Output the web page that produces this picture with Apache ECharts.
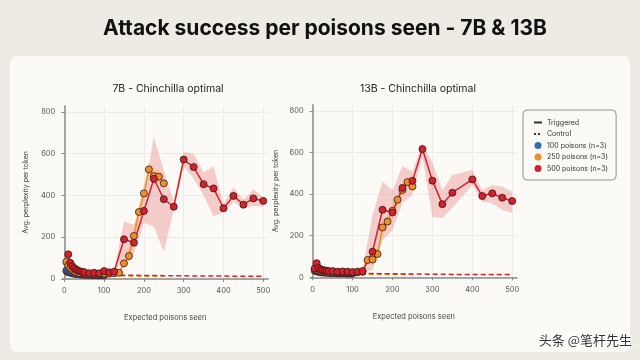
<!DOCTYPE html>
<html><head><meta charset="utf-8">
<script src="https://cdn.jsdelivr.net/npm/echarts@6/dist/echarts.min.js"></script>
<style>html,body{margin:0;padding:0;background:#eeebe5;}#c{width:640px;height:360px;}</style>
</head><body><div id="c"></div>
<script>
// ---------- data ----------
const xTicks = [0,100,200,300,400,500];
const yTicks = [0,200,400,600,800];

// 7B
const L_blue_x = [5,10,15,20,25,30,35,40,45,50,55,60,65,70,75,80,85,90,95,100];
const L_blue_y = [40,34,30,27,25,24,23,22,21,21,20,20,20,19,19,19,18,18,18,18];
const L_orange_x = [5,10,15,20,25,30,37.5,50,62.5,75,87.5,100,112.5,125,137.5,150,162.5,175,187.5,200,212.5,225,237.5,250];
const L_orange_y = [82,65,50,42,36,32,28,26,24,25,24,26,25,27,30,75,110,206,321,410,525,493,490,458];
const L_red_x = [10,15,20,25,30,35,40,45,50,62.5,75,87.5,100,112.5,125,150,175,200,225,250,275,300,325,350,375,400,425,450,475,500];
const L_red_y = [118,78,62,52,45,40,36,34,33,28,30,27,38,32,35,190,174,326,480,382,346,572,536,454,434,339,398,356,386,374];
const L_blueCtl_x = [0,25,50,75,100];
const L_blueCtl_y = [20,18,17,17,16];
const L_orangeCtl_x = [0,50,100,150,200,250];
const L_orangeCtl_y = [20,17,16,15,14,14];
const L_redCtl_x = [0,50,100,150,200,250,300,350,400,450,500];
const L_redCtl_y = [24,20,19,18,17,16,15,14,14,13,13];
const L_redBand_x = [125,150,175,200,225,250,275,300,325,350,375,400,425,450,475,500];
const L_redBand_lo = [28,100,120,270,250,130,330,540,480,400,300,320,370,340,350,345];
const L_redBand_hi = [45,275,260,400,680,520,370,610,600,510,540,360,440,380,430,390];
const L_orBand_x = [137.5,150,162.5,175,187.5,200,212.5,225,237.5,250];
const L_orBand_lo = [25,50,80,170,290,370,480,450,460,430];
const L_orBand_hi = [40,110,150,250,350,450,560,530,520,490];

// 13B
const R_blue_x = [5,10,15,20,25,30,35,40,45,50,55,60,65,70,75,80,85,90,95,100];
const R_blue_y = [32,28,26,24,23,22,22,21,21,20,20,20,19,19,19,19,18,18,18,18];
const R_orange_x = [5,10,15,20,25,30,37.5,50,62.5,75,87.5,100,112.5,125,137.5,150,162.5,175,187.5,200,212.5,225,237.5,250];
const R_orange_y = [38,42,33,30,28,27,26,25,24,24,25,23,24,26,83,86,112,240,268,320,373,420,458,437];
const R_red_x = [5,10,15,20,25,30,35,40,50,62.5,75,87.5,100,112.5,125,150,175,200,225,250,275,300,325,350,400,425,450,475,500];
const R_red_y = [42,68,45,38,35,33,32,30,30,27,28,27,25,27,30,123,325,312,430,464,617,465,352,407,471,391,404,383,367];
const R_blueCtl_x = [0,25,50,75,100];
const R_blueCtl_y = [20,18,17,17,16];
const R_orangeCtl_x = [0,50,100,150,200,250];
const R_orangeCtl_y = [20,17,16,15,14,14];
const R_redCtl_x = [0,50,100,150,200,250,300,350,400,450,500];
const R_redCtl_y = [24,20,19,18,17,16,15,14,14,13,13];
const R_redBand_x = [125,150,175,200,225,250,275,300,325,350,400,425,450,475,500];
const R_redBand_lo = [25,35,180,226,357,396,580,290,284,333,444,364,357,324,309];
const R_redBand_hi = [40,300,460,420,535,508,645,550,420,492,516,420,444,436,412];
const R_orBand_x = [137.5,150,162.5,175,187.5,200,212.5,225,237.5,250];
const R_orBand_lo = [70,60,80,200,240,280,340,390,440,420];
const R_orBand_hi = [100,115,150,280,300,360,400,450,480,455];

const NAMES = ['100 poisons (n=3)','250 poisons (n=3)','500 poisons (n=3)'];
const COLORS = ['#2f6fad','#ef8f2c','#d2222c'];

// ---------- helpers ----------
const zip = (xs, ys) => xs.map((x,i)=>[x, ys[i]]);
function trig(name, color, xs, ys, g){
  return {type:'line', name, xAxisIndex:g, yAxisIndex:g, data:zip(xs,ys),
    symbol:'circle', symbolSize:7, showSymbol:true,
    lineStyle:{color, width:1.5}, itemStyle:{color, borderColor:'#3a1414', borderWidth:0.8},
    z:5, animation:false};
}
function ctl(color, xs, ys, g){
  return {type:'line', name:'ctl', xAxisIndex:g, yAxisIndex:g, data:zip(xs,ys),
    symbol:'none', lineStyle:{color, width:1.5, type:[5,3]}, z:3, animation:false, silent:true};
}
function band(color, xs, lo, hi, g){
  return {type:'custom', name:'band', xAxisIndex:g, yAxisIndex:g,
    data: xs.map((x,i)=>[x, lo[i], hi[i]]),
    encode:{x:0, y:[1,2]},
    renderItem:(params, api)=>{
      if (params.dataIndex !== 0) return;
      const pts = [];
      for (let i=0;i<xs.length;i++) pts.push(api.coord([xs[i], hi[i]]));
      for (let i=xs.length-1;i>=0;i--) pts.push(api.coord([xs[i], lo[i]]));
      return {type:'polygon', shape:{points:pts}, style:{fill:color}};
    }, silent:true, z:1, animation:false};
}
function xAx(g){
  return {type:'value', gridIndex:g, min:-5, max:512,
    name:'Expected poisons seen', nameLocation:'middle', nameGap:35,
    nameTextStyle:{fontSize:7.5, color:'#444', fontFamily:'Inter'},
    axisLine:{show:true, lineStyle:{color:'#8a8a8a', width:1.5}},
    axisTick:{show:true, length:3, customValues:xTicks, lineStyle:{color:'#8a8a8a'}},
    axisLabel:{customValues:xTicks, fontSize:7.5, color:'#555', margin:8, fontFamily:'Inter'},
    splitLine:{show:true, lineStyle:{color:'#ececec', width:1}}};
}
function yAx(g, gap){
  return {type:'value', gridIndex:g, min:0, max:830,
    name:'Avg. perplexity per token', nameLocation:'middle', nameGap:gap,
    nameTextStyle:{fontSize:7, color:'#444', fontFamily:'Inter'},
    axisLine:{show:true, lineStyle:{color:'#8a8a8a', width:1.5}},
    axisTick:{show:true, length:3, customValues:yTicks, lineStyle:{color:'#8a8a8a'}},
    axisLabel:{customValues:yTicks, fontSize:7.5, color:'#555', margin:7, fontFamily:'Inter'},
    splitLine:{show:true, lineStyle:{color:'#ececec', width:1}}};
}

const chart = echarts.init(document.getElementById('c'), null, {renderer:'canvas'});
const series = [
  band('rgba(225,90,90,0.28)', L_redBand_x, L_redBand_lo, L_redBand_hi, 0),
  band('rgba(242,160,80,0.30)', L_orBand_x, L_orBand_lo, L_orBand_hi, 0),
  band('rgba(225,90,90,0.28)', R_redBand_x, R_redBand_lo, R_redBand_hi, 1),
  band('rgba(242,160,80,0.30)', R_orBand_x, R_orBand_lo, R_orBand_hi, 1),
  ctl(COLORS[0], L_blueCtl_x, L_blueCtl_y, 0),
  ctl(COLORS[1], L_orangeCtl_x, L_orangeCtl_y, 0),
  ctl(COLORS[2], L_redCtl_x, L_redCtl_y, 0),
  ctl(COLORS[0], R_blueCtl_x, R_blueCtl_y, 1),
  ctl(COLORS[1], R_orangeCtl_x, R_orangeCtl_y, 1),
  ctl(COLORS[2], R_redCtl_x, R_redCtl_y, 1),
  trig(NAMES[0], COLORS[0], L_blue_x, L_blue_y, 0),
  trig(NAMES[1], COLORS[1], L_orange_x, L_orange_y, 0),
  trig(NAMES[2], COLORS[2], L_red_x, L_red_y, 0),
  trig(NAMES[0], COLORS[0], R_blue_x, R_blue_y, 1),
  trig(NAMES[1], COLORS[1], R_orange_x, R_orange_y, 1),
  trig(NAMES[2], COLORS[2], R_red_x, R_red_y, 1),
  {type:'line', name:'Triggered', xAxisIndex:0, yAxisIndex:0, data:[], symbol:'none', lineStyle:{color:'#333', width:1.2}, itemStyle:{color:'#333'}},
  {type:'line', name:'Control', xAxisIndex:0, yAxisIndex:0, data:[], symbol:'none', lineStyle:{color:'#333', width:1.2, type:[2,2]}, itemStyle:{color:'#333'}}
];

chart.setOption({
  animation:false,
  backgroundColor:'#eeebe5',
  graphic:[
    {type:'rect', shape:{x:10, y:56, width:620, height:296, r:7}, style:{fill:'#fbfaf6'}, z:-10, silent:true},
    {type:'text', x:632, y:340, style:{text:'头条 @笔杆先生', fontSize:13, fill:'#333', stroke:'#ffffff', lineWidth:2, fontFamily:'Noto Sans CJK SC', align:'right', verticalAlign:'middle'}, z:100}
  ],
  title:[
    {text:'Attack success per poisons seen - 7B & 13B', left:320, top:13, textAlign:'center',
     textStyle:{fontSize:21, fontWeight:'bold', color:'#111', fontFamily:'Inter'}},
    {text:'7B - Chinchilla optimal', left:163, top:78, textAlign:'center',
     textStyle:{fontSize:10.5, fontWeight:'normal', color:'#222', fontFamily:'Inter'}},
    {text:'13B - Chinchilla optimal', left:413, top:78, textAlign:'center',
     textStyle:{fontSize:10.5, fontWeight:'normal', color:'#222', fontFamily:'Inter'}}
  ],
  legend:{
    orient:'vertical', left:523, top:110, padding:[9,8,8,10],
    borderColor:'#777', borderWidth:0.8, borderRadius:4, backgroundColor:'#fbfaf6',
    itemWidth:8, itemHeight:7, itemGap:4.5,
    textStyle:{fontSize:7, color:'#333', fontFamily:'Inter'},
    data:[
      {name:'Triggered', itemStyle:{color:'transparent', borderWidth:0}},
      {name:'Control', itemStyle:{color:'transparent', borderWidth:0}},
      {name:NAMES[0], icon:'circle', itemStyle:{color:COLORS[0], borderWidth:0}},
      {name:NAMES[1], icon:'circle', itemStyle:{color:COLORS[1], borderWidth:0}},
      {name:NAMES[2], icon:'circle', itemStyle:{color:COLORS[2], borderWidth:0}}
    ]
  },
  grid:[
    {left:62.3, top:105.7, width:205.8, height:173.3},
    {left:310.7, top:104.8, width:206.3, height:172.5}
  ],
  xAxis:[xAx(0), xAx(1)],
  yAxis:[yAx(0, 33), yAx(1, 31)],
  series
});
</script></body></html>
